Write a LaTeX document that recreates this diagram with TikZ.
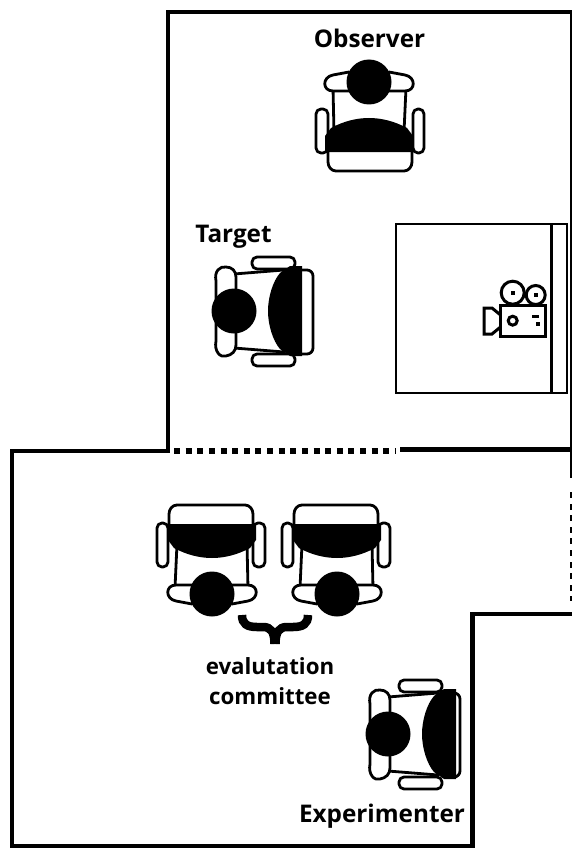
\documentclass[tikz,border=0pt]{standalone}
\usepackage{fontspec}
\setmainfont{Open Sans}
\usetikzlibrary{positioning}
\tikzset{
    pics/chair/.style={code={
        \draw[chairline, fill=white] (-41,68) -- (43,68) -- (43,80) to[out=-90, in=0] (35,89) -- (-33,89) to[out=180, in=-90] (-41,80) -- cycle;
        \draw[chairline, fill=white, rounded corners=5pt] (-53,27) rectangle (-41,71);
        \draw[chairline, fill=white, rounded corners=5pt] (44,27) rectangle (55,71);
        \draw[chairline, fill=white] (-36,6) -- (-35,50) -- (35,50) -- (37,6) -- cycle;
        \draw[chairline, fill=white] (-20,-10) -- (-36,-7) .. controls (-47,-5) and (-47,9) .. (-36,9) -- (-15,9) -- cycle;
        \draw[chairline, fill=white] (20,-10) -- (36,-7) .. controls (47,-5) and (47,9) .. (36,9) -- (15,9) -- cycle;
        \fill (-38,46) .. controls (-25,39) and (-12,36) .. (0,36) .. controls (12,36) and (25,39) .. (38,46) -- (44,54) -- (44,70) -- (-44,70) -- (-44,54) -- cycle;
        \node[head] at (0,0) {};
    }},
    pics/sidechair/.style 2 args={code={
        \draw[chairline, fill=white, rounded corners=6pt] (-43,55) rectangle (41,#2);
        \draw[chairline, fill=white, rounded corners=5pt] (-55,#1) rectangle (-43,#1+43);
        \draw[chairline, fill=white, rounded corners=5pt] (42,#1) rectangle (54,#1+43);
        \draw[chairline, fill=white] (-37,0) -- (-41,50) -- (41,50) -- (37,0) -- cycle;
        \draw[chairline, fill=white] (-30,-18) .. controls (-40,-20) and (-47,-14) .. (-45,-8) .. controls (-44,-2) and (-40,2) .. (-34,2) -- (34,2) .. controls (40,2) and (44,-2) .. (44,-8) .. controls (45,-14) and (40,-20) .. (30,-18) -- cycle;
        \fill (0,34) .. controls (14,34) and (30,39) .. (38,46) -- (45,56) -- (45,68) -- (-45,68) -- (-45,56) -- (-38,46) .. controls (-30,39) and (-14,34) .. (0,34) -- cycle;
        \node[head] at (0,0) {};
    }}
}
\begin{document}
\begin{tikzpicture}[
    x=1pt, y=-1pt,
    wall/.style={line width=4.5pt, line cap=rect},
    thinwall/.style={line width=2pt},
    chairline/.style={line width=2.8pt, line join=round},
    head/.style={circle, fill=black, minimum size=45pt, inner sep=0pt},
    lens/.style={line width=3pt, line join=miter},
    reel/.style={circle, draw, line width=3pt, inner sep=0pt, fill=white},
    label/.style={font=\bfseries\fontsize{24.3}{30}\selectfont, align=center, inner sep=0pt}
]
    \useasboundingbox (0,0) rectangle (572,848);

    % rooms
    \draw[wall] (168,450) -- (168,12) -- (572,12);
    \draw[wall] (168,451) -- (12,451) -- (12,846) -- (472.5,846) -- (472.5,614) -- (572,614);
    \draw[wall, line width=5.5pt, line cap=butt] (400,449.5) -- (572,449.5);
    \draw[line width=6pt, dash pattern=on 6pt off 5.63pt] (174,451) -- (395,451);
    \draw[thinwall] (571,12) -- (571,478);
    \draw[thinwall, line width=3pt, dash pattern=on 6pt off 5.6pt] (571,492) -- (571,601);

    % camera area
    \node[draw, line width=2pt, minimum width=171pt, minimum height=169pt, inner sep=0pt] (table) at (481.5,308.5) {};
    \draw[line width=3pt] (551.5,224) -- (551.5,393);

    \node[reel, minimum size=23pt] (reelA) at (512.7,292.7) {};
    \node[reel, minimum size=19pt] (reelB) at (535.7,295) {};
    \node[draw, line width=3pt, fill=white, minimum width=45pt, minimum height=31pt, inner sep=0pt] (body) at (523.3,320.5) {};
    \fill (reelA.center) ++(-2,-2) rectangle ++(4,4);
    \fill (reelB.center) ++(-2,-2) rectangle ++(4,4);
    \node[circle, draw, line width=3pt, minimum size=9pt, inner sep=0pt] (iris) at (512.7,320.7) {};
    \fill (532,315) rectangle (539,317.5);
    \fill (536,322) rectangle (540,326);
    \draw[lens] (500.5,315) -- (492,308) -- (484,308) -- (484,334) -- (492,334) -- (500.5,327);

    % chairs
    \pic at (369,82) {chair};
    \pic[rotate=90] at (234,311) {sidechair={18}{79}};
    \pic[rotate=180] at (212,594) {chair};
    \pic[rotate=180] at (337,594) {chair};
    \pic[rotate=90] at (388,734) {sidechair={11}{72}};

    % committee brace
    \draw[line width=8.5pt] (242,615) .. controls (242,624) and (247,627) .. (257,627) -- (263,627) .. controls (271,627) and (274.5,632) .. (274.5,644);
    \draw[line width=8.5pt] (308,615) .. controls (308,624) and (303,627) .. (293,627) -- (287,627) .. controls (279,627) and (275.5,632) .. (275.5,644);

    % labels
    \node[label] (observer) at (369.5,38) {Observer};
    \node[label] (target) at (233.5,237) {Target};
    \node[label, font=\bfseries\fontsize{22.3}{30}\selectfont] (committee) at (270,681) {evalutation\\committee};
    \node[label] (experimenter) at (382,816) {Experimenter};
\end{tikzpicture}
\end{document}
